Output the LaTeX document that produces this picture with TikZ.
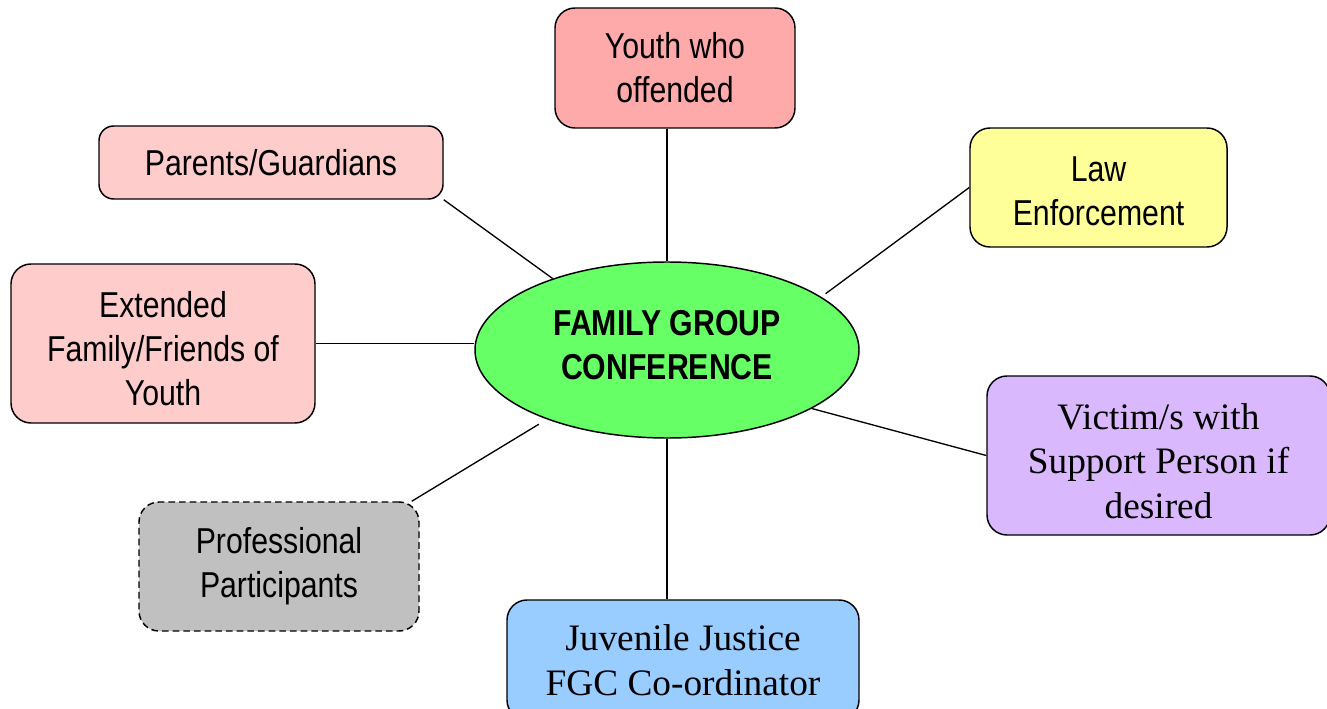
\documentclass[tikz,border=0pt]{standalone}
\usepackage{fontspec}
\setmainfont{Liberation Sans}[FakeStretch=0.84]
\newfontfamily\timesfont{Liberation Serif}
\usetikzlibrary{shapes.geometric}
\definecolor{youthpink}{HTML}{FFAAAA}
\definecolor{lightpink}{HTML}{FFCCCC}
\definecolor{lawyellow}{HTML}{FFFF99}
\definecolor{hubgreen}{HTML}{66FF66}
\definecolor{victimlilac}{HTML}{DAB8FD}
\definecolor{progrey}{HTML}{C0C0C0}
\definecolor{jjblue}{HTML}{99CCFF}
\tikzset{
  part/.style={draw, line width=1.1pt, rounded corners=15pt, align=center,
    inner sep=0pt, font={\fontsize{27}{33}\selectfont}},
  hub/.style={draw, ellipse, line width=1.1pt, fill=hubgreen, align=center,
    inner sep=0pt, font={\fontsize{27}{33}\selectfont\bfseries}},
  link/.style={line width=1pt}
}
\begin{document}
\begin{tikzpicture}[x=0.75pt, y=-0.75pt]
    \useasboundingbox (0, 0) rectangle (1327, 709);
        \node[hub, minimum width=288pt, minimum height=132pt] (fgc) at (667, 350) {FAMILY GROUP\\CONFERENCE\rule[-7pt]{0pt}{7pt}};
        \node[part, fill=youthpink, minimum width=180pt, minimum height=90pt] (youth) at (675, 68) {Youth who\\offended};
        \node[part, fill=lightpink, rounded corners=11pt, minimum width=258pt, minimum height=54.75pt] (par) at (271, 162.5) {Parents/Guardians};
        \node[part, fill=lawyellow, minimum width=192.75pt, minimum height=89.25pt] (law) at (1098.5, 187.5) {\rule{0pt}{24pt}Law\\Enforcement};
        \node[part, fill=lightpink, minimum width=228pt, minimum height=119.25pt] (ext) at (163, 343.5) {\rule{0pt}{27pt}Extended\\Family/Friends of\\Youth};
        \node[part, fill=victimlilac, minimum width=257.25pt, minimum height=119.25pt, font={\fontsize{28}{33.5}\selectfont\timesfont}] (vic) at (1158.5, 455.5) {\rule{0pt}{28pt}Victim/s with\\Support Person if\\desired};
        \node[part, fill=progrey, dash pattern=on 5pt off 3pt, minimum width=210pt, minimum height=96.75pt] (pro) at (279, 566.5) {Professional\\Participants};
        \node[part, fill=jjblue, minimum width=264pt, minimum height=90pt, font={\fontsize{28}{34}\selectfont\timesfont}] (jj) at (683, 660) {Juvenile Justice\\FGC Co-ordinator};
        % spokes
        \draw[link] (fgc.north |- youth.south) to (fgc.north);
        \draw[link] (par.south east) to (fgc.148);
        \draw[link, shorten >=4pt] (law.west) to (fgc.19);
        \draw[link] (ext.east) to (ext.east -| fgc.west);
        \draw[link] (vic.west) to (fgc.-22);
        \draw[link, shorten >=7pt] ([xshift=-6pt]pro.north east) to (fgc.210);
        \draw[link] (fgc.south) to (fgc.south |- jj.north);
    \end{tikzpicture}
\end{document}
